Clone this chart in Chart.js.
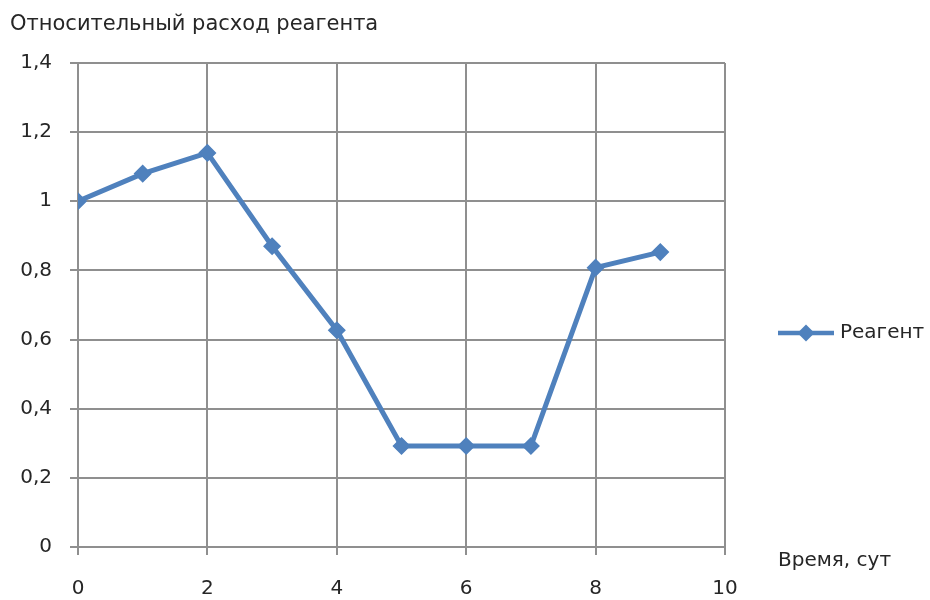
<!DOCTYPE html>
<html>
<head>
<meta charset="utf-8">
<script src="https://cdn.jsdelivr.net/npm/chart.js@4"></script>
<style>
  html, body { margin: 0; padding: 0; background: #fff; }
  #wrap { width: 930px; height: 600px; }
</style>
</head>
<body>
<div id="wrap"><canvas id="chart" width="930" height="600"></canvas></div>
<script>
// Reagent consumption by day
const days = [0, 1, 2, 3, 4, 5, 6, 7, 8, 9];
const reagent = [1.0, 1.08, 1.14, 0.87, 0.627, 0.292, 0.292, 0.292, 0.808, 0.853];
const seriesName = 'Реагент';
const yTitle = 'Относительный расход реагента';
const xTitle = 'Время, сут';

const BLUE = '#4f81bd';
const GRID = '#8f8f8f';
const TEXT = '#262626';
const FONT = 'DejaVu Sans';
const FS = 20;

// legend icon: a short line with a diamond in the middle
const legendIcon = document.createElement('canvas');
legendIcon.width = 56;
legendIcon.height = 20;
(function () {
  const c = legendIcon.getContext('2d');
  c.strokeStyle = BLUE;
  c.lineWidth = 4.5;
  c.beginPath();
  c.moveTo(0, 10);
  c.lineTo(56, 10);
  c.stroke();
  c.fillStyle = BLUE;
  c.beginPath();
  c.moveTo(28, 1.5);
  c.lineTo(36.5, 10);
  c.lineTo(28, 18.5);
  c.lineTo(19.5, 10);
  c.closePath();
  c.fill();
})();

// draws the x-axis caption to the right of the axis end
const xCaption = {
  id: 'xCaption',
  afterDraw(chart) {
    const ctx = chart.ctx;
    const area = chart.chartArea;
    ctx.save();
    ctx.font = FS + 'px "' + FONT + '"';
    ctx.fillStyle = TEXT;
    ctx.textAlign = 'left';
    ctx.textBaseline = 'alphabetic';
    ctx.fillText(xTitle, area.right + 53, area.bottom + 19);
    ctx.restore();
  }
};

const points = days.map((d, i) => ({ x: d, y: reagent[i] }));

new Chart(document.getElementById('chart'), {
  type: 'line',
  data: {
    datasets: [{
      label: seriesName,
      data: points,
      borderColor: BLUE,
      backgroundColor: BLUE,
      borderWidth: 5,
      pointStyle: 'rectRot',
      pointRadius: 8,
      pointBorderWidth: 1.5,
      pointBackgroundColor: BLUE,
      pointBorderColor: BLUE,
      tension: 0,
      fill: false
    }]
  },
  options: {
    responsive: false,
    animation: false,
    events: [],
    layout: { padding: { left: 10, right: 0, top: 0, bottom: 0 } },
    font: { family: FONT, size: FS },
    color: TEXT,
    plugins: {
      title: {
        display: true,
        text: yTitle,
        align: 'start',
        color: TEXT,
        font: { family: FONT, size: 21, weight: 'normal', lineHeight: 1.2 },
        padding: { top: 12, bottom: 25.8 }
      },
      legend: {
        display: true,
        position: 'right',
        align: 'center',
        maxWidth: 205,
        title: { display: true, text: ' ', font: { size: 12, lineHeight: 1.2 }, padding: { top: 0, bottom: 51.6 } },
        labels: {
          usePointStyle: true,
          pointStyle: legendIcon,
          pointStyleWidth: 48,
          padding: 57,
          color: TEXT,
          font: { family: FONT, size: FS }
        }
      },
      tooltip: { enabled: false }
    },
    scales: {
      x: {
        type: 'linear',
        min: 0,
        max: 10,
        afterFit(scale) { scale.height = 53; },
        ticks: { stepSize: 2, color: TEXT, padding: 22, font: { family: FONT, size: FS } },
        grid: { color: GRID, lineWidth: 2, tickLength: 8, tickColor: GRID },
        border: { color: GRID, width: 2 }
      },
      y: {
        min: 0,
        max: 1.4,
        afterFit(scale) { scale.width = 68; },
        ticks: {
          stepSize: 0.2,
          color: TEXT,
          padding: 18,
          font: { family: FONT, size: FS },
          callback: (v) => String(Math.round(v * 10) / 10).replace('.', ',')
        },
        grid: { color: GRID, lineWidth: 2, tickLength: 8, tickColor: GRID },
        border: { color: GRID, width: 2 }
      }
    }
  },
  plugins: [xCaption]
});
</script>
</body>
</html>
